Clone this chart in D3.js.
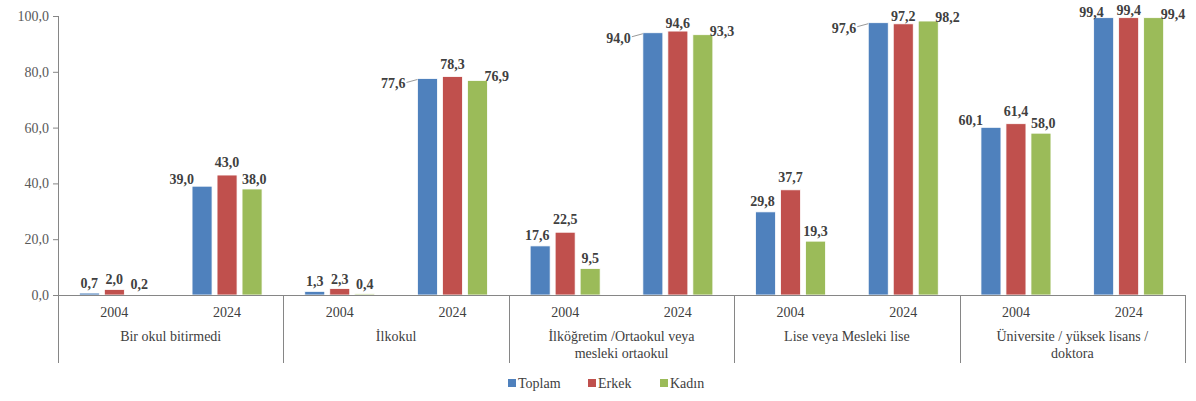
<!DOCTYPE html>
<html><head><meta charset="utf-8">
<script src="https://cdn.jsdelivr.net/npm/d3@7"></script>
<style>body{margin:0;background:#fff}svg{display:block}svg text{font-family:"Liberation Serif","DejaVu Serif Condensed","DejaVu Serif",serif}</style>
</head><body><svg id="c" width="1196" height="401"></svg>
<script>
const categories = ["Bir okul bitirmedi", "İlkokul", "İlköğretim /Ortaokul veya\nmesleki ortaokul", "Lise veya Mesleki lise", "Üniversite / yüksek lisans /\ndoktora"];
const years = ["2004", "2024"];
const seriesNames = ["Toplam", "Erkek", "Kadın"];
const toplam = [0.7, 39.0, 1.3, 77.6, 17.6, 94.0, 29.8, 97.6, 60.1, 99.4];
const erkek  = [2.0, 43.0, 2.3, 78.3, 22.5, 94.6, 37.7, 97.2, 61.4, 99.4];
const kadin  = [0.2, 38.0, 0.4, 76.9, 9.5, 93.3, 19.3, 98.2, 58.0, 99.4];
const yTicks = [0, 20, 40, 60, 80, 100];
const colors = ["#4F81BD", "#C0504D", "#9BBB59"];

const svg = d3.select("#c");
const L = 58, R = 1185, T = 16, B = 295;
const fmt = v => d3.format(".1f")(v).replace(".", ",");
const FS = "14px";

const y = d3.scaleLinear().domain([0, 100]).range([B, T]);
const xCat = d3.scaleBand().domain(categories).range([L, R]);
const subKeys = [];
categories.forEach(c => years.forEach(yr => subKeys.push(c + "|" + yr)));
const xSub = d3.scaleBand().domain(subKeys).range([L, R]);

const values = [toplam, erkek, kadin];
const data = [];
subKeys.forEach((k, i) => {
  seriesNames.forEach((s, j) => data.push({k, i, j, s, v: values[j][i]}));
});

// y axis
const yAxis = svg.append("g").attr("transform", `translate(${L},0)`)
  .call(d3.axisLeft(y).tickValues(yTicks).tickFormat(fmt).tickSize(5).tickSizeOuter(0));
yAxis.select(".domain").remove();
yAxis.selectAll("line").attr("stroke", "#868686");
yAxis.selectAll("text").style("font-size", FS).attr("fill", "#595959").attr("dx", -1);

// bars
const g = svg.append("g");
data.forEach(d => {
  const c = xSub(d.k) + xSub.bandwidth() / 2;
  const x1 = d3.scaleBand().domain(seriesNames).range([c - 35, c + 35]).paddingInner(0.2);
  d.x = x1(d.s); d.w = x1.bandwidth(); d.top = y(d.v);
});
g.selectAll("rect").data(data).join("rect")
  .attr("x", d => d.x).attr("y", d => d.top)
  .attr("width", d => d.w).attr("height", d => B - d.top)
  .attr("fill", d => colors[d.j]).attr("stroke", "#fff").attr("stroke-width", 0.8);

// labels
const lab = svg.append("g");
data.forEach(d => {
  let x = d.x + d.w / 2, yy = d.top - 5, anchor = "middle";
  if (d.j === 0 && d.v >= 35) {
    if (d.v > 99) { x = d.x + 10; yy = d.top - 1; anchor = "end"; }
    else if (d.v > 70) { x = d.x - 12; yy = d.top + 10; anchor = "end";
      svg.append("line").attr("x1", x + 1).attr("x2", d.x).attr("y1", d.top + 4).attr("y2", d.top + 1)
        .attr("stroke", "#999").attr("stroke-width", 1);
    } else { x = d.x + 2; yy = d.top - 2; anchor = "end"; }
  } else if (d.j === 2 && d.v >= 35) {
    if (d.v > 70) { x = d.x + d.w - 3; yy = d.top + 1; anchor = "start"; }
    else { x = d.x; yy = d.top - 5; anchor = "start"; }
  } else if (d.j === 0 && d.v > 10) { x = d.x + d.w / 2 - 3; yy = d.top - 6; }
  else if (d.j === 1 && d.v > 10) { yy = d.v > 90 ? d.top - 3 : d.top - 8; }
  lab.append("text").attr("x", x).attr("y", yy).attr("text-anchor", anchor)
    .style("font-size", FS).style("font-weight", "bold").attr("fill", "#404040").text(fmt(d.v));
});

// bottom axis line and separators
const ax = svg.append("g").attr("stroke", "#868686").attr("stroke-width", 1);
ax.append("line").attr("x1", L).attr("x2", R).attr("y1", B + 0.5).attr("y2", B + 0.5);
const seps = categories.map(c => xCat(c)).concat([R]);
ax.selectAll("line.sep").data(seps).join("line").attr("class", "sep")
  .attr("x1", d => Math.round(d) + 0.5).attr("x2", d => Math.round(d) + 0.5)
  .attr("y2", 363)
  .attr("y1", (d, i) => i === 0 ? T : B);

// year labels
const tl = svg.append("g").attr("fill", "#404040").attr("text-anchor", "middle");
subKeys.forEach(k => {
  tl.append("text").attr("x", xSub(k) + xSub.bandwidth() / 2).attr("y", 317).style("font-size", FS).text(k.split("|")[1]);
});
categories.forEach(c => {
  const lines = c.split("\n");
  const t = tl.append("text").attr("x", xCat(c) + xCat.bandwidth() / 2).attr("y", 341).style("font-size", FS);
  lines.forEach((ln, i) => t.append("tspan").attr("x", xCat(c) + xCat.bandwidth() / 2).attr("dy", i ? 17 : 0).text(ln));
});

// legend
const legX = [508, 588, 660];
const leg = svg.append("g").attr("fill", "#404040");
seriesNames.forEach((s, j) => {
  leg.append("rect").attr("x", legX[j]).attr("y", 379).attr("width", 8).attr("height", 8).attr("fill", colors[j]);
  leg.append("text").attr("x", legX[j] + 10).attr("y", 388).style("font-size", FS).text(s);
});
</script></body></html>
